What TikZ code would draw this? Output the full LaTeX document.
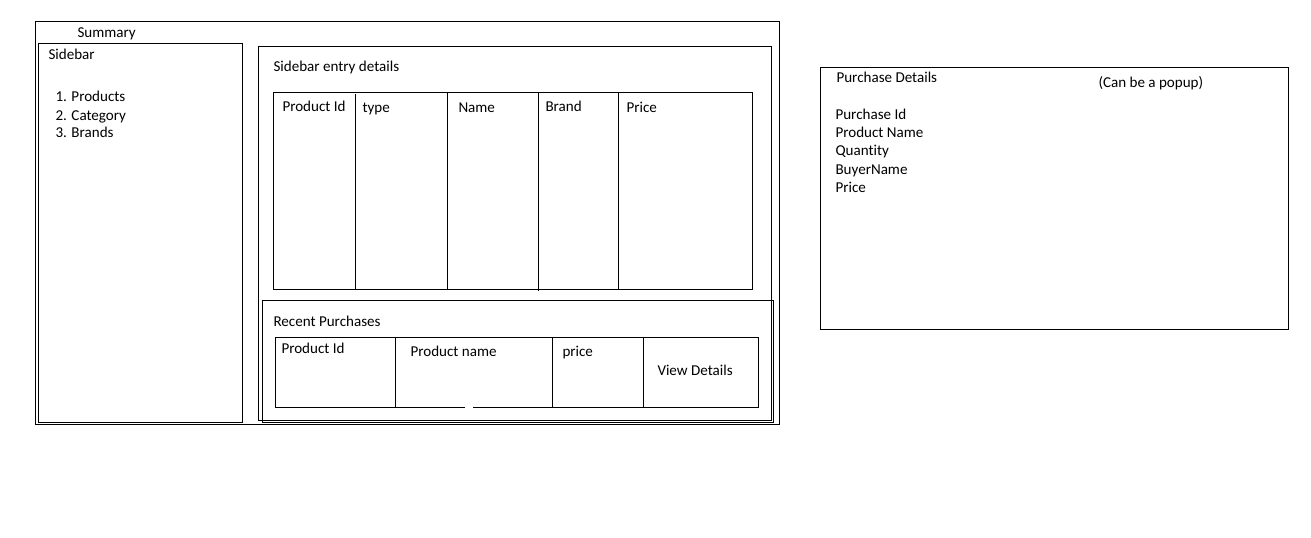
\documentclass[tikz,border=0pt]{standalone}
\usepackage{fontspec}
\setmainfont{Carlito}[Ligatures=CommonOff]
\begin{document}
\begin{tikzpicture}[x=0.75pt,y=-0.75pt,line width=0.75pt,
	lbl/.style={anchor=base west,inner sep=0pt,font=\fontsize{11.3}{13.5}\selectfont}]
	\useasboundingbox (0,0) rectangle (1311,537);
	% main page
	\draw (35,21) rectangle (779,424);
	\node[lbl] (summary) at (77,37.5) {Summary};
	% sidebar
	\draw (38,43) rectangle (242,422);
	\node[lbl] (sidebar) at (48,59) {Sidebar};
	\node[lbl] (products) at (55,101.7) {1. Products};
	\node[lbl] (category) at (55,120) {2. Category};
	\node[lbl] (brands) at (55,137.7) {3. Brands};
	% sidebar entry details
	\draw (258,46) rectangle (771,420);
	\node[lbl] (entry) at (273,71.7) {Sidebar entry details};
	\draw (273,92) rectangle (752,289);
	\draw (355,94)--(355,289) (447,92)--(447,290) (538,92)--(538,291) (618,92)--(618,289);
	\node[lbl] (pid) at (282,111.7) {Product Id};
	\node[lbl] (type) at (362,112.3) {type};
	\node[lbl] (name) at (458,112.3) {Name};
	\node[lbl] (brand) at (545,111.7) {Brand};
	\node[lbl] (price) at (626,112.3) {Price};
	% recent purchases
	\draw (262,300) rectangle (773,422);
	\node[lbl] (recent) at (273,326) {Recent Purchases};
	\draw (465,407)--(275,407)--(275,337)--(758,337)--(758,407)--(473,407);
	\draw (395,337)--(395,407) (552,337)--(552,407) (643,337)--(643,407);
	\node[lbl] (rpid) at (281,353) {Product Id};
	\node[lbl] (rpname) at (410,356) {Product name};
	\node[lbl] (rprice) at (562,356) {price};
	\node[lbl] (view) at (657,375) {View Details};
	% purchase details
	\draw (820,67) rectangle (1288,329);
	\node[lbl] (details) at (836,82.7) {Purchase Details};
	\node[lbl] (popup) at (1098,87.3) {(Can be a popup)};
	\node[lbl] (purid) at (835,119.3) {Purchase Id};
	\node[lbl] (pname) at (835,137.7) {Product Name};
	\node[lbl] (qty) at (835,155.7) {Quantity};
	\node[lbl] (buyer) at (835,174) {BuyerName};
	\node[lbl] (pprice) at (835,192) {Price};
\end{tikzpicture}
\end{document}
